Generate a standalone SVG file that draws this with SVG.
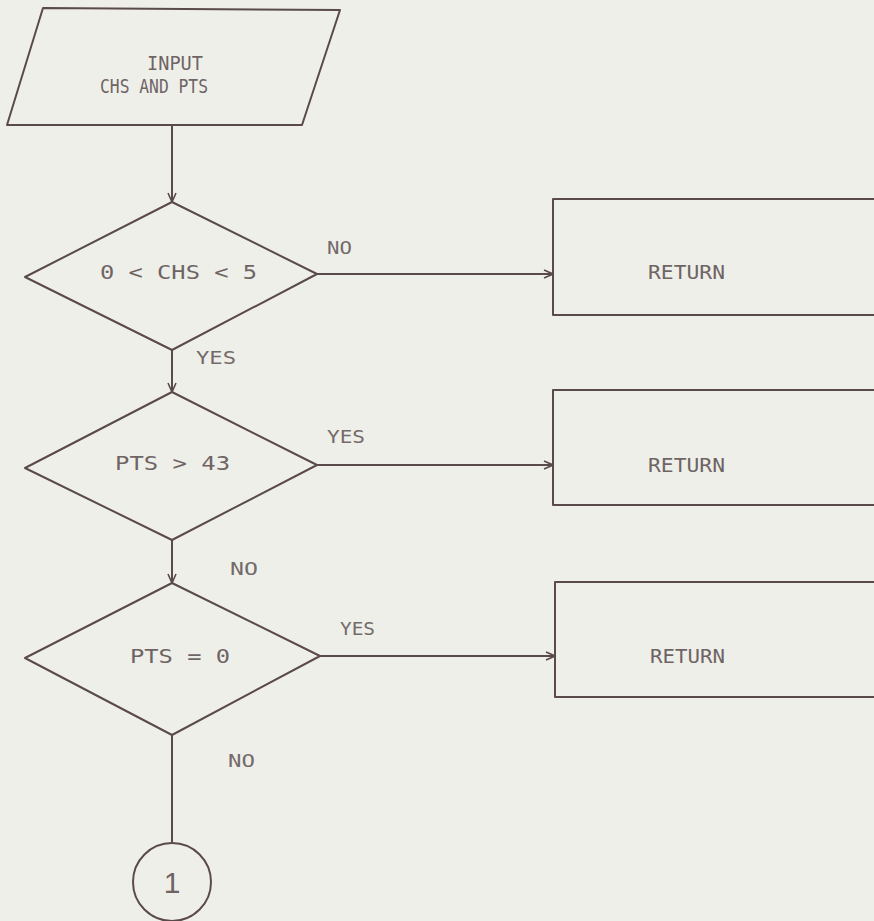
<svg xmlns="http://www.w3.org/2000/svg" width="874" height="921" viewBox="0 0 874 921">
<defs>
<style>
.shape{fill:none;stroke:#5a4a4a;stroke-width:2;stroke-linejoin:round}
.conn{fill:none;stroke:#5a4a4a;stroke-width:2}
.t{font-family:"DejaVu Sans Mono","Liberation Mono",monospace;font-size:20px;fill:#6e6464}
.lbl{font-family:"DejaVu Sans Mono","Liberation Mono",monospace;font-size:18px;fill:#746a6a}
</style>
<marker id="arr" viewBox="0 0 10 10" refX="10" refY="5" markerWidth="10" markerHeight="10" markerUnits="userSpaceOnUse" orient="auto">
<path d="M1,1 L10,5 L1,9" fill="none" stroke="#5a4a4a" stroke-width="1.6"/>
</marker>
</defs>
<rect width="874" height="921" fill="#efefea"/>

<g id="connectors">
<line class="conn" x1="172" y1="125" x2="172" y2="202" marker-end="url(#arr)"/>
<line class="conn" x1="172" y1="350" x2="172" y2="392" marker-end="url(#arr)"/>
<line class="conn" x1="172" y1="540" x2="172" y2="583" marker-end="url(#arr)"/>
<line class="conn" x1="172" y1="735" x2="172" y2="843"/>
<line class="conn" x1="317" y1="274" x2="553" y2="274" marker-end="url(#arr)"/>
<line class="conn" x1="317" y1="465" x2="553" y2="465" marker-end="url(#arr)"/>
<line class="conn" x1="320" y1="656" x2="555" y2="656" marker-end="url(#arr)"/>
<text class="lbl" x="327" y="254" textLength="25" lengthAdjust="spacingAndGlyphs">NO</text>
<text class="lbl" x="196" y="364" textLength="40" lengthAdjust="spacingAndGlyphs">YES</text>
<text class="lbl" x="327" y="443" textLength="38" lengthAdjust="spacingAndGlyphs">YES</text>
<text class="lbl" x="230" y="575" textLength="28" lengthAdjust="spacingAndGlyphs">NO</text>
<text class="lbl" x="340" y="635" textLength="35" lengthAdjust="spacingAndGlyphs">YES</text>
<text class="lbl" x="228" y="767" textLength="27" lengthAdjust="spacingAndGlyphs">NO</text>
</g>

<g id="input">
<polygon class="shape" points="43,8 340,10 302,125 7,125"/>
<text class="t" x="147" y="70" textLength="56" lengthAdjust="spacingAndGlyphs">INPUT</text>
<text class="t" x="100" y="93" textLength="108" lengthAdjust="spacingAndGlyphs">CHS AND PTS</text>
</g>

<g id="decision1">
<polygon class="shape" points="172,202 317,274 172,350 25,277"/>
<text class="t" x="100" y="279" textLength="157" lengthAdjust="spacingAndGlyphs">0 &lt; CHS &lt; 5</text>
</g>

<g id="decision2">
<polygon class="shape" points="172,392 317,465 172,540 25,468"/>
<text class="t" x="115" y="470" textLength="115" lengthAdjust="spacingAndGlyphs">PTS &gt; 43</text>
</g>

<g id="decision3">
<polygon class="shape" points="172,583 320,656 172,735 25,658"/>
<text class="t" x="130" y="663" textLength="100" lengthAdjust="spacingAndGlyphs">PTS = 0</text>
</g>

<g id="return1">
<rect class="shape" x="553" y="199" width="330" height="116"/>
<text class="t" x="648" y="279" textLength="77" lengthAdjust="spacingAndGlyphs">RETURN</text>
</g>

<g id="return2">
<rect class="shape" x="553" y="390" width="330" height="115"/>
<text class="t" x="648" y="472" textLength="77" lengthAdjust="spacingAndGlyphs">RETURN</text>
</g>

<g id="return3">
<rect class="shape" x="555" y="582" width="330" height="115"/>
<text class="t" x="650" y="663" textLength="75" lengthAdjust="spacingAndGlyphs">RETURN</text>
</g>

<g id="connector1">
<circle class="shape" cx="172" cy="882" r="39"/>
<text class="t" x="172" y="893" text-anchor="middle" style="font-family:'Liberation Sans',sans-serif;font-size:30px">1</text>
</g>
</svg>
